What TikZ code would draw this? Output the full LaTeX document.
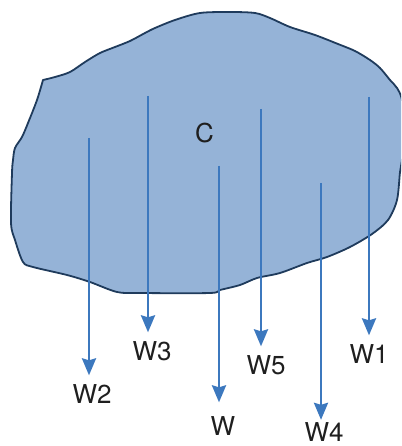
\documentclass[tikz,border=0pt]{standalone}
\usepackage{fontspec}
\setmainfont{TeX Gyre Heros}
\usepackage{xcolor}
\usetikzlibrary{arrows.meta,positioning}

\definecolor{blobfill}{HTML}{95B3D7}
\definecolor{blobedge}{HTML}{1F3B5C}
\definecolor{arrowblue}{HTML}{3C78BE}

\begin{document}
\begin{tikzpicture}[x=1pt, y=-1pt, >={Stealth[length=17pt, width=14pt, inset=2pt]}]
    % Styles
    \tikzstyle{region} = [draw=blobedge, fill=blobfill, line width=1.8pt, line join=round]
    \tikzstyle{tag} = [font=\fontsize{26}{30}\selectfont, anchor=base, inner sep=8.5pt, text=black!88]
    \tikzstyle{flow} = [draw=arrowblue, line width=2.8pt, ->]

    \path [use as bounding box, clip] (0,0) rectangle (401,446);

    % Region
    \path [region] plot [smooth, tension=0.5] coordinates {
        (43,80) (55,77) (70,72) (85,62) (100,53) (115,47) (130,41) (145,33)
        (155,28) (175,20) (200,13) (230,12) (255,13) (270,18) (290,27)
        (315,35) (338,44) (355,51) (370,60) (380,68) (390,80) (397,88)
        (402,100) (405,130) (402,160) (400,172) (397,200) (388,220)
        (372,234) (350,247) (327,257) (307,263) (280,273) (257,278)
        (240,285) (220,290) (210,293) (140,293) (117,292) (90,282)
        (67,275) (33,267) (23,262) (15,240) (11,223) (12,173) (13,160)
        (15,148) (22,137) (28,123) (37,100) (43,80)} -- cycle;

    % Nodes
    \node [tag] (c) at (204.5,143) {C};
    \node [tag] (w1) at (369,363) {W1};
    \node [tag] (w2) at (92,403) {W2};
    \node [tag] (w3) at (152,360) {W3};
    \node [tag] (w) at (223,435) {W};
    \node [tag] (w5) at (266,374) {W5};
    \node [tag, inner ysep=2pt] (w4) at (324,441) {W4};

    \coordinate (s1) at (369,97);
    \coordinate (s2) at (89,138);
    \coordinate (s3) at (148,96);
    \coordinate (s) at (219,166);
    \coordinate (s5) at (261,109);
    \coordinate (s4) at (321,183);

    % Paths
    \path [flow] (s1) -- (s1 |- w1.north);
    \path [flow] (s2) -- (s2 |- w2.north);
    \path [flow] (s3) -- (s3 |- w3.north);
    \path [flow, shorten >=5pt] (s) -- (s |- w.north);
    \path [flow] (s5) -- (s5 |- w5.north);
    \path [flow] (s4) -- (s4 |- w4.north);
\end{tikzpicture}
\end{document}
